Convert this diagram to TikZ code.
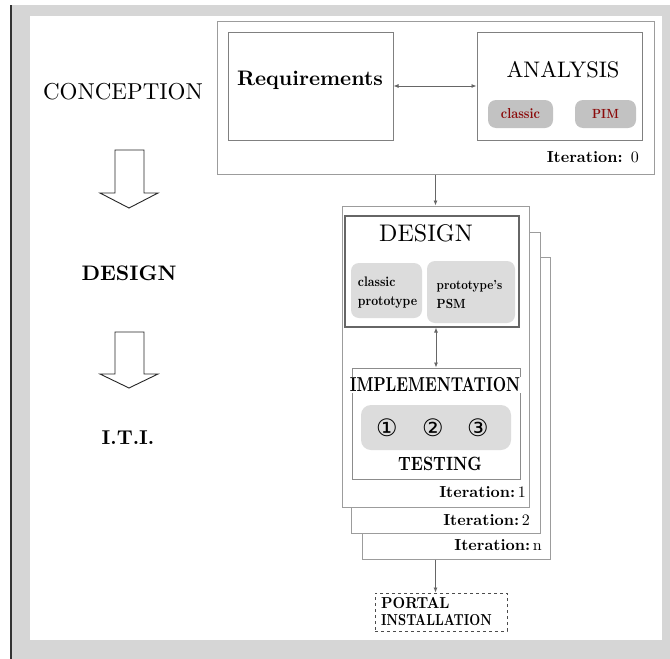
\documentclass[tikz,border=0pt]{standalone}
\usepackage{fontspec}
\setmainfont{lmroman10-regular.otf}[BoldFont=lmroman10-bold.otf, ItalicFont=lmroman10-italic.otf]
\newfontfamily\symfont{DejaVu Sans}
\usetikzlibrary{arrows.meta}
\definecolor{framegray}{HTML}{D6D6D6}
\definecolor{edgegray}{HTML}{9C9C9C}
\definecolor{pilldark}{HTML}{C2C2C2}
\definecolor{pilllight}{HTML}{DCDCDC}
\definecolor{darkred}{HTML}{8B0A0A}
\tikzset{
  iterframe/.style={draw=edgegray, line width=1pt, fill=white, inner sep=0pt},
  plainbox/.style={draw=gray, line width=1pt, fill=white, inner sep=0pt},
  pill/.style={rounded corners=8pt, inner sep=0pt},
  lbl/.style={inner sep=0pt, text=black},
  link/.style={draw=black!60, line width=0.8pt, -{Latex[length=5pt,width=4pt]}},
  biglink/.style={draw=black!60, line width=0.8pt, {Latex[length=5pt,width=4pt]}-{Latex[length=5pt,width=4pt]}},
  hollow/.style={draw=black!85, line width=0.9pt, fill=white, line join=miter},
  fs/.style={font=\fontsize{#1}{#1}\selectfont},
  digit/.style={inner sep=0pt, font=\symfont\fontsize{24}{24}\selectfont}
}
\begin{document}
\begin{tikzpicture}[x=1pt,y=-1pt]
\useasboundingbox (0,0) rectangle (670,659);
% page background and grey frame
\fill[white] (0,0) rectangle (670,659);
\fill[framegray] (12,5) rectangle (670,659);
\fill[white] (30,16) rectangle (662,640);
\draw[line width=1.5pt, black!80] (11,5) -- (11,659);

% left column: phases
\node[lbl, fs=23] (conc) at (123,92) {CONCEPTION};
\draw[hollow] (115,150) -- (144,150) -- (144,193) -- (158,193) -- (129,208) -- (100,193) -- (115,193) -- cycle;
\node[lbl, fs=21] (dsgn) at (129,273) {\bfseries DESIGN};
\draw[hollow] (115,332) -- (144,332) -- (144,374) -- (158,374) -- (129,388) -- (100,374) -- (115,374) -- cycle;
\node[lbl, fs=20] (iti) at (128,438) {\bfseries I.T.I.};

% iteration 0: requirements and analysis
\node[iterframe, minimum width=437pt, minimum height=153pt] (f0) at (435.5,97.5) {};
\node[plainbox, minimum width=165pt, minimum height=108pt] (req) at (310.5,86) {};
\node[plainbox, minimum width=165pt, minimum height=108pt] (ana) at (559.5,86) {};
\node[lbl, fs=21] (reqt) at (310,80) {\bfseries Requirements};
\node[lbl, fs=22.5] (anat) at (563,70) {ANALYSIS};
\node[pill, fill=pilldark, minimum width=65pt, minimum height=28pt] (cls) at (520.5,114) {};
\node[pill, fill=pilldark, minimum width=61pt, minimum height=28pt] (pim) at (605.5,114) {};
\node[lbl, fs=12.5, text=darkred] at (cls) {\scalebox{1}[1.15]{\bfseries classic}};
\node[lbl, fs=11.5, text=darkred] at (pim) {\scalebox{1}[1.15]{\bfseries PIM}};
\node[lbl, fs=16, anchor=east] (it0) at (639,157) {\bfseries Iteration: \mdseries 0};
\draw[biglink] (req.east) -- (ana.west);

% stacked iterations
\node[iterframe, minimum width=188pt, minimum height=302pt] (fN) at (456,408) {};
\node[iterframe, minimum width=189pt, minimum height=301pt] (f2) at (445.5,382.5) {};
\node[iterframe, minimum width=187pt, minimum height=301pt] (f1) at (435.5,356.5) {};
\draw[link] (f0.south) -- (f1.north);

% design
\node[draw=black!60, line width=1.2pt, fill=white, inner sep=0pt, minimum width=174pt, minimum height=111pt] (des) at (432,271.5) {};
\node[lbl, fs=24] (dest) at (426,233) {DESIGN};
\node[pill, fill=pilllight, minimum width=71pt, minimum height=55pt] (cp) at (386.5,290.5) {};
\node[pill, fill=pilllight, minimum width=88pt, minimum height=62pt] (psm) at (471,292) {};
\node[lbl, align=left, font=\fontsize{12}{19}\selectfont\bfseries] at (387.5,293) {\scalebox{1}[1.15]{classic}\\\scalebox{1}[1.15]{prototype}};
\node[lbl, align=left, font=\fontsize{11.5}{19}\selectfont\bfseries] at (469.5,294) {\scalebox{1}[1.15]{prototype's}\\\scalebox{1}[1.15]{PSM}};

% implementation and testing
\node[draw=black!45, line width=1pt, fill=white, inner sep=0pt, minimum width=168pt, minimum height=111pt] (imp) at (436,423.5) {};
\draw[biglink] (imp.north |- des.south) -- (imp.north);
\node[lbl, fill=white, inner sep=1pt, fs=15.5] (impt) at (435,385) {\scalebox{1}[1.3]{\bfseries IMPLEMENTATION}};
\node[pill, rounded corners=10pt, fill=pilllight, minimum width=150pt, minimum height=45pt] (nums) at (436,427.5) {};
\node[digit] (n1) at (387,428) {①};
\node[digit] (n2) at (433,428) {②};
\node[digit] (n3) at (478,428) {③};
\node[lbl, fs=16] (test) at (440,464) {\scalebox{1}[1.2]{\bfseries TESTING}};

% iteration labels
\node[lbl, fs=16, anchor=east] (it1) at (526,492) {\bfseries Iteration:\,\mdseries 1};
\node[lbl, fs=16, anchor=east] (it2) at (530,520) {\bfseries Iteration:\,\mdseries 2};
\node[lbl, fs=16, anchor=east] (itn) at (542,545) {\bfseries Iteration:\,\mdseries n};

% portal installation
\node[draw=black!70, dashed, line width=0.9pt, inner sep=0pt, minimum width=132pt, minimum height=38pt] (portal) at (441,612) {};
\node[lbl, anchor=west, align=left, font=\fontsize{12.7}{17}\selectfont\bfseries] (portalt) at (381,612) {\scalebox{1.15}[1.25]{PORTAL}\\\scalebox{1}[1.25]{INSTALLATION}};
\draw[link] (f1.south |- fN.south) -- (f1.south |- portal.north);
\end{tikzpicture}
\end{document}
